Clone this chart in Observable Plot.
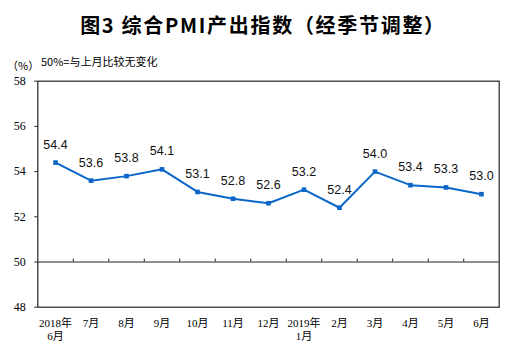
<!DOCTYPE html>
<html><head><meta charset="utf-8">
<script src="https://cdn.jsdelivr.net/npm/d3@7"></script>
<script src="https://cdn.jsdelivr.net/npm/@observablehq/plot@0.6"></script>
<style>
body{margin:0;background:#fff}
#wrap{position:relative;width:531px;height:354px;overflow:hidden}
.t{position:absolute;white-space:nowrap;line-height:1}
#title{left:5px;width:516px;top:10px;text-align:center;font:bold 20px "Noto Sans CJK SC",sans-serif;letter-spacing:1.7px;color:#000}
#unit{left:7px;top:57px;font:11px "Noto Sans CJK SC",sans-serif;color:#000}
#note{left:41px;top:53px;font:11px "Noto Sans CJK SC",sans-serif;color:#000}
#chart{position:absolute;left:0;top:0}
</style></head>
<body><div id="wrap">
<div id="chart"></div>
<div class="t" id="title">图3 综合PMI产出指数（经季节调整）</div>
<div class="t" id="unit">（%）</div>
<div class="t" id="note">50%=与上月比较无变化</div>
</div>
<script>
const months = ["2018年\n6月","7月","8月","9月","10月","11月","12月","2019年\n1月","2月","3月","4月","5月","6月"];
const values = [54.4,53.6,53.8,54.1,53.1,52.8,52.6,53.2,52.4,54.0,53.4,53.3,53.0];
const yTicks = [48,50,52,54,56,58];

const data = months.map((m,i)=>({i, m, v: values[i]}));
const blue = "#0b66c8";
const serif = "'Times New Roman','Liberation Serif','Noto Sans CJK SC',serif";

const chart = Plot.plot({
  width: 531, height: 354,
  marginTop: 80.7, marginBottom: 47.3, marginLeft: 37.3, marginRight: 32.3,
  style: {background: "transparent", color: "#000"},
  x: {type: "linear", domain: [-0.5, 12.5], axis: null, label: null},
  y: {domain: [48, 58], axis: null, label: null},
  marks: [
    Plot.frame({stroke: "#222", strokeWidth: 1.2}),
    Plot.ruleY([50], {stroke: "#222", strokeWidth: 1.2}),
    Plot.ruleX(d3.range(0.5, 12, 1), {y1: 50, y2: 50.13, stroke: "#222", strokeWidth: 1}),
    Plot.axisY({ticks: yTicks, tickSize: 3, tickPadding: 9, fontSize: 12, fontFamily: serif, tickFormat: d => d, stroke: "#222", label: null}),
    Plot.axisX({ticks: d3.range(months.length), tickFormat: i => months[i], tickSize: 0, tickPadding: 10, fontSize: 11, fontFamily: serif, lineHeight: 1.2, label: null}),
    Plot.line(data, {x: "i", y: "v", stroke: blue, strokeWidth: 2}),
    Plot.dot(data, {x: "i", y: "v", symbol: "square", r: 2.6, fill: blue, stroke: null}),
    Plot.text(data, {x: "i", y: "v", text: d => d.v.toFixed(1), dy: -18, fontSize: 12.5, fontFamily: "'Liberation Sans',Arial,sans-serif", fill: "#111"})
  ]
});
document.getElementById("chart").appendChild(chart);
</script>
</body></html>
